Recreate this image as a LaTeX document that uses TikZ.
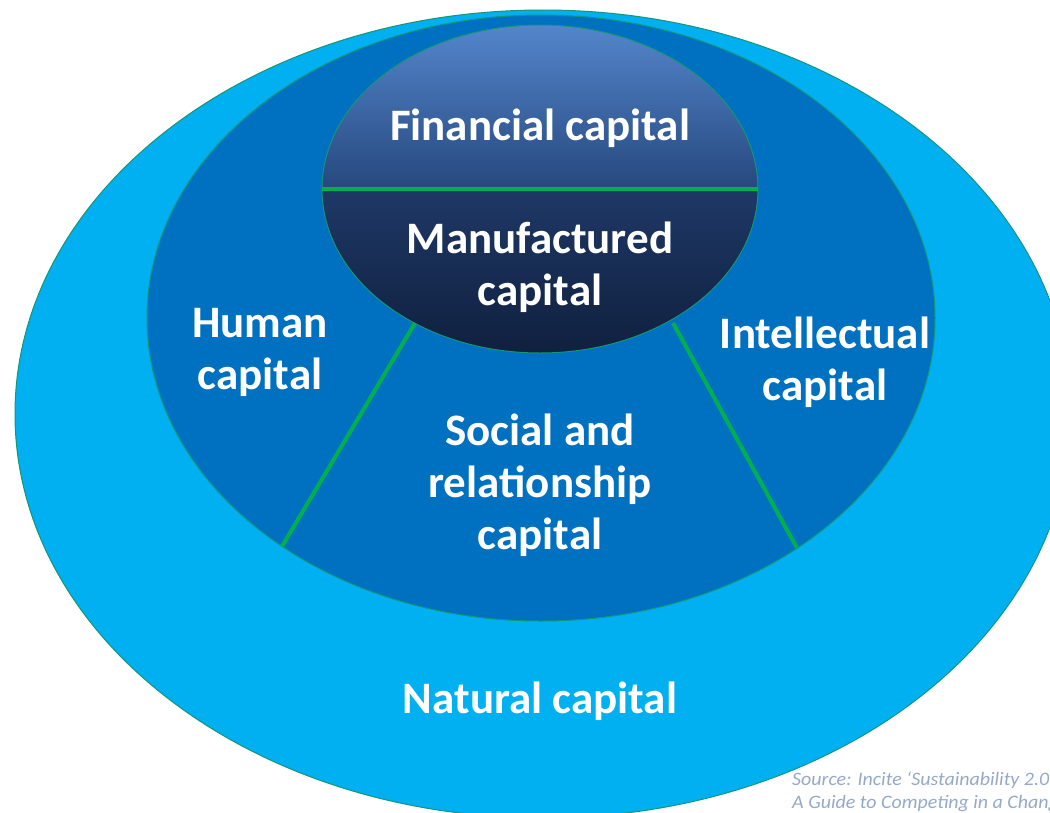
\documentclass[tikz,border=0pt]{standalone}
\usepackage{fontspec}
\setmainfont{Carlito}
\definecolor{naturalblue}{RGB}{0,176,240}
\definecolor{innerblue}{RGB}{0,112,192}
\definecolor{finTop}{RGB}{84,134,204}
\definecolor{finBot}{RGB}{38,72,126}
\definecolor{manTop}{RGB}{30,56,102}
\definecolor{manBot}{RGB}{16,32,62}
\definecolor{divgreen}{RGB}{0,176,80}
\definecolor{rimgreen}{RGB}{20,150,120}
\definecolor{srcgray}{RGB}{150,170,200}
\begin{document}
\begin{tikzpicture}[x=1pt,y=-1pt,
  lbl/.style={text=white,font=\fontsize{45}{52}\selectfont\bfseries,align=center,inner sep=0pt},
  divider/.style={draw=divgreen,line width=4pt},
  rim/.style={draw=rimgreen,line width=1pt},
  srctext/.style={text=srcgray,font=\fontsize{19}{23}\selectfont\itshape,anchor=base west,inner sep=0pt,xscale=1.05}]
\useasboundingbox (0,0) rectangle (1050,812);
\clip (0,0) rectangle (1050,812);
\fill[white] (0,0) rectangle (1050,812);
% centres
\coordinate (outerC) at (543,414);
\coordinate (innerC) at (541,318);
\coordinate (coreC) at (540,189);
% ellipses
\fill[naturalblue,rim] (outerC) ellipse [x radius=528pt, y radius=404pt];
\fill[innerblue,rim] (innerC) ellipse [x radius=394pt, y radius=303pt];
% core: upper and lower halves with their own gradients
\begin{scope}
  \clip (coreC) ellipse [x radius=218pt, y radius=164pt];
  \shade[top color=finTop,bottom color=finBot] (320,24) rectangle (760,189);
  \shade[top color=manTop,bottom color=manBot] (320,189) rectangle (760,355);
\end{scope}
\draw[rim] (coreC) ellipse [x radius=218pt, y radius=164pt];
% dividers
\coordinate (coreL) at (322,189);
\coordinate (coreR) at (758,189);
\coordinate (dl1) at (415,323);
\coordinate (dl2) at (281,548);
\coordinate (dr1) at (673,323);
\coordinate (dr2) at (797,548);
\begin{scope}
  \clip (innerC) ellipse [x radius=394pt, y radius=303pt];
  \draw[divider] (coreL) -- (coreR);
  \draw[divider] (dl1) -- (dl2);
  \draw[divider] (dr1) -- (dr2);
\end{scope}
% labels
\node[lbl] (fin) at (540,128) {Financial capital};
\node[lbl] (man) at (540,267) {Manufactured\\capital};
\node[lbl] (hum) at (260,352) {Human\\capital};
\node[lbl] (int) at (825,362) {Intellectual\\capital};
\node[lbl] (soc) at (540,485) {Social and\\relationship\\capital};
\node[lbl] (nat) at (540,701) {Natural capital};
\node[srctext] (src1) at (792,785) {Source: Incite ‘Sustainability 2.0:};
\node[srctext] (src2) at (792,808) {A Guide to Competing in a Changing};
\end{tikzpicture}
\end{document}
